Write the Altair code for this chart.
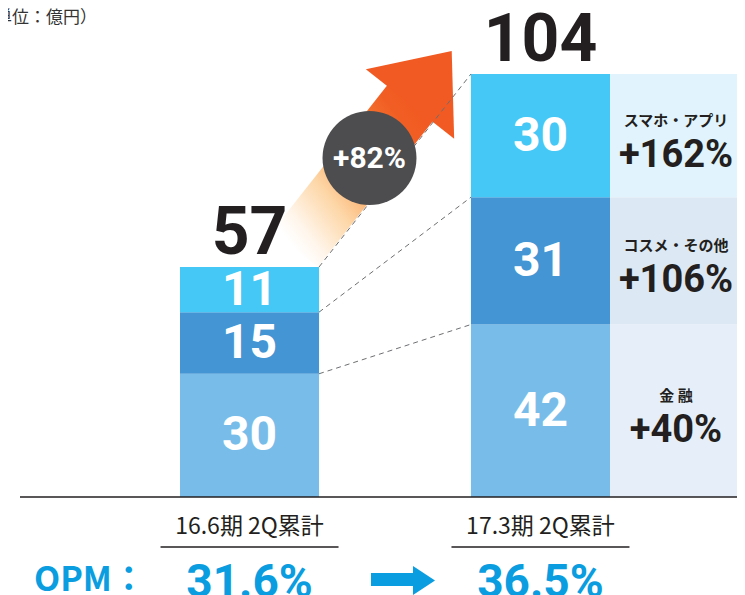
import altair as alt
import pandas as pd

# ---------------- data ----------------
categories = ["16.6期 2Q累計", "17.3期 2Q累計"]
segments = ["金融", "コスメ・その他", "スマホ・アプリ"]          # bottom -> top
segment_titles = ["金 融", "コスメ・その他", "スマホ・アプリ"]
values_1 = [30, 15, 11]
values_2 = [42, 31, 30]
totals = [57, 104]
growth = ["+40%", "+106%", "+162%"]
opm = ["31.6%", "36.5%"]
total_growth = ["+82%"]
unit_label = ["（単位：億円）"]
opm_label = ["OPM："]

bar_colors = ["#78bde9", "#4395d3", "#45c8f5"]
panel_colors = ["#e6eff9", "#dde8f5", "#e1f3fc"]
dark = "#231f20"
blue = "#0a9de0"

rows = []
for cat, vals in zip(categories, [values_1, values_2]):
    cum = 0
    for seg, v, title, g in zip(segments, vals, segment_titles, growth):
        rows.append(dict(cat=cat, seg=seg, v=v, lo=cum, hi=cum + v, mid=cum + v / 2,
                         title=title, growth=g))
        cum += v
seg_df = pd.DataFrame(rows)
panel_df = seg_df[seg_df.cat == categories[1]]

tot_df = pd.DataFrame(dict(cat=categories, label=[str(t) for t in totals],
                           top=[sum(values_1), sum(values_2)]))
opm_df = pd.DataFrame(dict(cat=categories, opm=opm))

b1 = seg_df[seg_df.cat == categories[0]].reset_index(drop=True)
b2 = seg_df[seg_df.cat == categories[1]].reset_index(drop=True)
dash_df = pd.DataFrame(dict(ya=b1.hi, yb=b2.hi))

one = pd.DataFrame({"t": total_growth})

# ---------------- scales ----------------
W, H = 729, 587
k = 4.107
zero_px = 489
yscale = alt.Scale(domain=[-(H - zero_px) / k, zero_px / k], nice=False, zero=False)
xscale = alt.Scale(domain=categories, range=[172, 602], paddingInner=0.522, paddingOuter=0)
X = alt.X("cat:N", scale=xscale, axis=None)

def Y(f):
    return alt.Y(f, type="quantitative", scale=yscale, axis=None)

# ---------------- layers ----------------
panel = alt.Chart(panel_df).mark_rect().encode(
    x=alt.value(602), x2=alt.value(W),
    y=Y("lo"), y2="hi",
    color=alt.Color("seg:N", scale=alt.Scale(domain=segments, range=panel_colors), legend=None),
)

bars = alt.Chart(seg_df).mark_bar(strokeWidth=0).encode(
    x=X, y=Y("lo"), y2="hi",
    color=alt.Color("seg:N", scale=alt.Scale(domain=segments, range=bar_colors), legend=None),
)

grad = alt.LinearGradient(
    gradient="linear", x1=0, y1=1, x2=1, y2=0,
    stops=[
        alt.GradientStop(color="#ffffff", offset=0),
        alt.GradientStop(color="#fff6ec", offset=0.1),
        alt.GradientStop(color="#fdd6a6", offset=0.32),
        alt.GradientStop(color="#fbb272", offset=0.47),
        alt.GradientStop(color="#f47a33", offset=0.7),
        alt.GradientStop(color="#f15e24", offset=0.88),
        alt.GradientStop(color="#f15a22", offset=1),
    ],
)
shaft = alt.Chart(one).mark_rule(stroke=grad, strokeWidth=58, strokeCap="butt").encode(
    x=alt.value(287.2), y=alt.value(241), x2=alt.value(404.8), y2=alt.value(91.7)
)
head = alt.Chart(one).mark_point(
    shape="M0,-1.2L1,0L-1,0Z", filled=True, fill="#f15a22", strokeWidth=0,
    opacity=1, size=12634, angle=38.2,
).encode(x=alt.value(402), y=alt.value(96))

dashes = alt.Chart(dash_df).mark_rule(color="#6d6e71", strokeWidth=1, strokeDash=[5, 4]).encode(
    x=alt.value(311), x2=alt.value(463), y=Y("ya"), y2="yb"
)

circle = alt.Chart(one).mark_point(
    shape="circle", filled=True, fill="#4d4d4f", strokeWidth=0, opacity=1, size=8825
).encode(x=alt.value(361.5), y=alt.value(150))
circle_text = alt.Chart(one).mark_text(
    font="Roboto", fontWeight="bold", fontSize=30, color="white", baseline="middle"
).encode(x=alt.value(361.5), y=alt.value(151), text="t:N")

bar_text = alt.Chart(seg_df).mark_text(
    font="Roboto", fontWeight="bold", fontSize=48, color="white", baseline="middle", dy=1
).encode(x=X, y=Y("mid"), text="v:Q")

tot_text = alt.Chart(tot_df).mark_text(
    font="Roboto", fontWeight="bold", fontSize=66, color=dark, baseline="alphabetic", dy=-13
).encode(x=X, y=Y("top"), text="label:N")

panel_title = alt.Chart(panel_df).mark_text(
    font="Noto Sans CJK JP", fontWeight="bold", fontSize=15, color=dark, baseline="middle", dy=-15
).encode(x=alt.value(668), y=Y("mid"), text="title:N")
panel_growth = alt.Chart(panel_df).mark_text(
    font="Roboto", fontWeight="bold", fontSize=38, color=dark, baseline="middle", dy=20
).encode(x=alt.value(668), y=Y("mid"), text="growth:N")

axis_line = alt.Chart(one).mark_rule(color=dark, strokeWidth=1.5).encode(
    x=alt.value(12), x2=alt.value(W), y=alt.datum(0, scale=yscale)
)

cat_text = alt.Chart(opm_df).mark_text(
    font="Noto Sans CJK JP", fontSize=23, color=dark, baseline="middle"
).encode(x=X, y=alt.value(519), text="cat:N")
underline = alt.Chart(opm_df).mark_bar(width=178, color=dark).encode(
    x=X, y=alt.value(538.3), y2=alt.value(539.8)
)
opm_text = alt.Chart(opm_df).mark_text(
    font="Roboto", fontWeight="bold", fontSize=46, color=blue, baseline="alphabetic"
).encode(x=X, y=alt.value(589), text="opm:N")
opm_lab = alt.Chart(pd.DataFrame({"t": opm_label})).mark_text(
    font="Noto Sans CJK JP", fontWeight="bold", fontSize=34, color=blue,
    baseline="alphabetic", align="left"
).encode(x=alt.value(26), y=alt.value(583), text="t:N")

blue_shaft = alt.Chart(one).mark_rule(color=blue, strokeWidth=13, strokeCap="butt").encode(
    x=alt.value(363), x2=alt.value(406), y=alt.value(571.5)
)
blue_head = alt.Chart(one).mark_point(
    shape="M0,-1L1.52,0L0,1Z", filled=True, fill=blue, strokeWidth=0, opacity=1, size=841
).encode(x=alt.value(405), y=alt.value(572.5))

unit = alt.Chart(pd.DataFrame({"t": unit_label})).mark_text(
    font="Noto Sans CJK JP", fontSize=17, color="#333333", baseline="middle", align="right"
).encode(x=alt.value(89), y=alt.value(10), text="t:N")

chart = alt.layer(
    panel, bars, shaft, head, dashes, circle, circle_text, bar_text, tot_text,
    panel_title, panel_growth, axis_line, cat_text, underline, opm_text, opm_lab,
    blue_shaft, blue_head, unit,
).resolve_scale(color="independent").properties(
    width=W, height=H, padding=0, autosize=alt.AutoSizeParams(type="none")
).configure_view(stroke=None)

chart.save("out.html", embed_options={"renderer": "svg", "actions": False})
